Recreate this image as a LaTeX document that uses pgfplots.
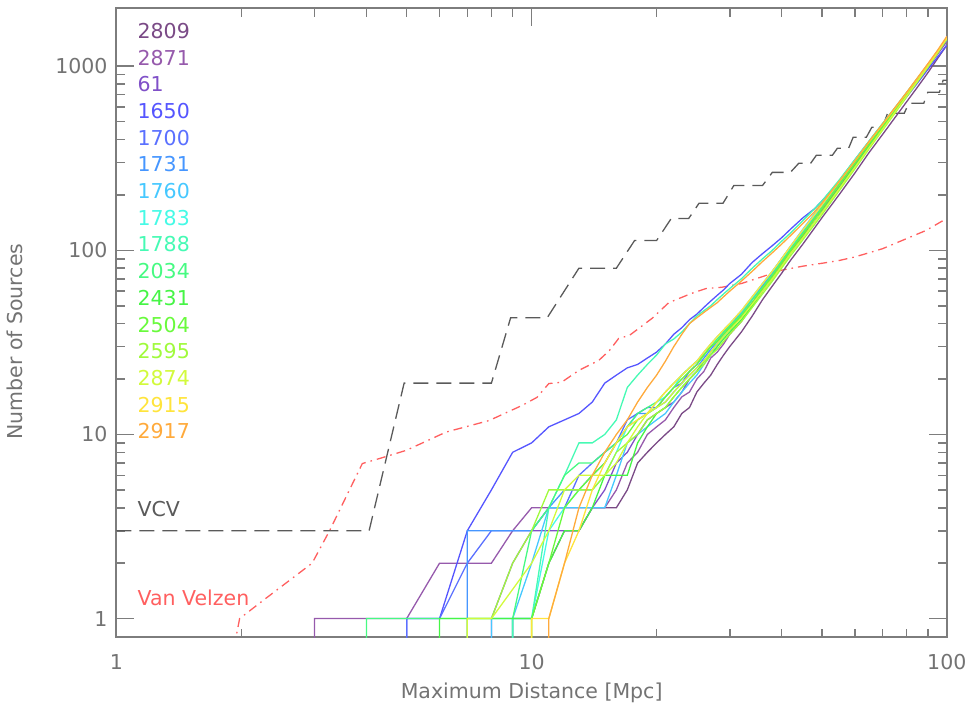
\documentclass[border=0pt]{standalone}
\usepackage{fontspec}
\setmainfont{DejaVu Sans}
\usepackage{pgfplots}
\pgfplotsset{compat=1.18}

\definecolor{axisgray}{RGB}{125,125,125}
\definecolor{textgray}{RGB}{115,115,115}
\definecolor{vcvgray}{RGB}{90,90,90}
\definecolor{vvred}{RGB}{255,95,95}
\definecolor{c2809}{RGB}{122,74,134}
\definecolor{c2871}{RGB}{150,90,172}
\definecolor{c61}{RGB}{128,80,200}
\definecolor{c1650}{RGB}{85,85,255}
\definecolor{c1700}{RGB}{90,112,255}
\definecolor{c1731}{RGB}{70,150,255}
\definecolor{c1760}{RGB}{70,200,255}
\definecolor{c1783}{RGB}{70,250,230}
\definecolor{c1788}{RGB}{70,250,180}
\definecolor{c2034}{RGB}{70,250,130}
\definecolor{c2431}{RGB}{70,245,70}
\definecolor{c2504}{RGB}{105,250,60}
\definecolor{c2595}{RGB}{160,250,60}
\definecolor{c2874}{RGB}{210,250,60}
\definecolor{c2915}{RGB}{255,228,60}
\definecolor{c2917}{RGB}{255,170,60}

\newcommand{\lbl}{\fontsize{10.3}{12}\selectfont}

\begin{document}
\begin{tikzpicture}
\begin{axis}[
  xmode=log, ymode=log,
  scale only axis, width=415.5bp, height=315bp,
  xmin=1, xmax=100, ymin=0.79, ymax=2070,
  xtick={1,10,100}, xticklabels={1,10,100},
  ytick={1,10,100,1000}, yticklabels={1,10,100,1000},
  axis line style={draw=axisgray, line width=1bp},
  every tick/.style={draw=axisgray, line width=0.8bp},
  major tick length=9bp, minor tick length=4.5bp,
  tick label style={font=\lbl, text=textgray},
  xticklabel style={yshift=-5bp},
  yticklabel style={xshift=-1bp},
  label style={font=\lbl, text=textgray},
  xlabel={Maximum Distance [Mpc]},
  ylabel={Number of Sources},
  xlabel style={at={(axis description cs:0.5,0)}, anchor=center, yshift=-27.5bp},
  ylabel style={at={(axis description cs:0,0.47)}, anchor=center, rotate=0, yshift=51bp},
  every axis plot/.append style={line width=0.65bp},
]
% VCV
\addplot[vcvgray, dash pattern=on 7.5bp off 4bp] coordinates {
  (1,3)(4.06,3)(4.93,19)(8.0,19)(8.9,43)(10.9,43)(13,80)(16,80)(17.7,113)
  (20,113)(21.7,149)(23.9,149)(25.3,180)(28.9,180)(30.7,225)(36,225)
  (38,265)(42,265)(44,297)(47,297)(48.5,328)(53,328)(54.5,358)(58,358)
  (59.5,411)(64,411)(66,466)(70,466)(72,555)(79,555)(81,629)(88,629)
  (90,722)(96,722)(98,839)(100,839)};
% Van Velzen
\addplot[vvred, dash pattern=on 4.5bp off 2.5bp on 0.8bp off 2.5bp] coordinates {
  (1.92,0.7)(1.98,1)(2.25,1.25)(2.96,2.0)(3.26,3.0)(3.91,6.95)(4.3,7.4)
  (4.99,8.2)(6.22,10.3)(7.9,11.9)(9.5,14.4)(10.3,15.9)(11.0,18.9)(11.8,19.2)
  (13.0,22.3)(14.5,25.2)(15.4,28.6)(16.2,33.2)(17.2,34.5)(19.5,42.7)(21.4,52)
  (24.3,58.4)(26.3,62)(28.7,63)(32,66)(36,72)(40,78)(45,82)(50,85)(55,88)
  (60,92)(65,97)(70,102)(78,113)(89,128)(100,149)};

\addplot[c2809] coordinates {
  (9,0.5)(9,1)(10,1)(11,2)(12,3)(13,3)(14,4)(16,4)(17,5)(18,7)(19,8)(20,9)
  (21,10)(22,11)(23,13)(24,14)(25,17)(26,19)(27,21)(28,24)(29,27)(30,30)
  (32,36)(34,44)(36,54)(38,64)(40,75)(42,88)(45,108)(48,132)(50,150)(55,200)
  (60,262)(65,340)(70,425)(75,525)(80,640)(85,770)(90,920)(95,1100)(100,1300)};
\addplot[c2871] coordinates {
  (3,0.5)(3,1)(5,1)(6,2)(8,2)(9,3)(10,4)(15,4)(16,5)(17,7)(18,8)(19,10)
  (20,11)(21,12)(22,14)(23,16)(24,17)(25,20)(26,22)(27,26)(28,28)(29,31)
  (30,35)(32,41)(34,50)(36,60)(38,70)(40,83)(42,98)(45,120)(48,148)(50,166)
  (55,220)(60,290)(65,370)(70,460)(75,565)(80,690)(85,830)(90,985)(95,1160)(100,1360)};
\addplot[c61] coordinates {
  (8,0.5)(8,1)(9,2)(10,3)(13,3)(14,4)(15,5)(16,7)(17,8)(18,10)(19,12)(20,13)
  (21,14)(22,15)(23,17)(24,20)(25,22)(26,25)(27,28)(28,31)(29,34)(30,37)
  (32,44)(34,52)(36,62)(38,73)(40,86)(42,100)(45,125)(48,152)(50,172)(55,228)
  (60,298)(65,378)(70,470)(75,578)(80,700)(85,840)(90,1000)(95,1180)(100,1390)};
\addplot[c1650] coordinates {
  (5,0.5)(5,1)(6,1)(7,3)(8,5)(9,8)(10,9)(11,11)(12,12)(13,13)(14,15)(15,19)
  (16,21)(17,23)(18,24)(19,26)(20,28)(21,31)(22,35)(23,38)(24,42)(25,45)
  (26,49)(27,53)(28,57)(29,61)(30,66)(32,74)(34,86)(36,96)(38,106)(40,117)
  (42,130)(45,150)(48,168)(50,185)(55,235)(60,300)(65,375)(70,465)(75,565)
  (80,680)(85,810)(90,960)(95,1120)(100,1300)};
\addplot[c1700] coordinates {
  (5,0.5)(5,1)(6,1)(7,2)(8,3)(10,3)(11,4)(12,4)(13,6)(14,7)(15,8)(16,9)
  (17,12)(18,13)(19,14)(20,14)(21,16)(22,18)(23,19)(24,22)(25,24)(26,27)
  (27,30)(28,32)(29,36)(30,39)(32,46)(34,55)(36,65)(38,76)(40,90)(42,104)
  (45,128)(48,155)(50,175)(55,232)(60,300)(65,382)(70,475)(75,580)(80,705)
  (85,845)(90,1005)(95,1185)(100,1390)};
\addplot[c1731] coordinates {
  (7,0.5)(7,3)(10,3)(11,4)(12,5)(13,5)(14,6)(15,7)(16,9)(17,11)(18,13)(19,13)
  (20,14)(21,15)(22,17)(23,19)(24,21)(25,23)(26,26)(27,29)(28,32)(29,35)
  (30,38)(32,45)(34,54)(36,64)(38,75)(40,88)(42,102)(45,126)(48,152)(50,172)
  (55,230)(60,300)(65,380)(70,472)(75,580)(80,700)(85,840)(90,1000)(95,1190)(100,1400)};
\addplot[c1760] coordinates {
  (8,0.5)(8,1)(9,1)(10,2)(11,4)(15,4)(16,6)(17,9)(18,10)(19,11)(20,12)(21,13)
  (22,15)(23,17)(24,19)(25,21)(26,24)(27,27)(28,30)(29,34)(30,38)(32,46)
  (34,55)(36,66)(38,77)(40,90)(42,105)(45,130)(48,158)(50,178)(55,238)
  (60,310)(65,392)(70,485)(75,590)(80,715)(85,855)(90,1015)(95,1200)(100,1410)};
\addplot[c1783] coordinates {
  (9,0.5)(9,1)(10,1)(11,3)(12,4)(13,5)(14,5)(15,6)(16,8)(17,11)(18,12)(19,13)
  (20,15)(21,16)(22,18)(23,21)(24,23)(25,25)(26,28)(27,31)(28,34)(29,37)
  (30,40)(32,47)(34,56)(36,66)(38,77)(40,90)(42,104)(45,128)(48,155)(50,176)
  (55,236)(60,306)(65,390)(70,485)(75,592)(80,715)(85,855)(90,1015)(95,1195)(100,1400)};
\addplot[c1788] coordinates {
  (9,0.5)(9,1)(10,1)(11,4)(12,6)(13,9)(14,9)(15,10)(16,12)(17,18)(18,21)(19,24)
  (20,27)(21,31)(22,33)(23,36)(24,40)(25,44)(26,47)(27,50)(28,54)(29,58)
  (30,62)(32,70)(34,80)(36,90)(38,100)(40,112)(42,124)(45,145)(48,168)(50,185)
  (55,240)(60,310)(65,392)(70,488)(75,595)(80,720)(85,862)(90,1020)(95,1200)(100,1410)};
\addplot[c2034] coordinates {
  (4,0.5)(4,1)(9,1)(10,3)(11,4)(12,6)(13,7)(14,7)(15,8)(16,9)(17,11)(18,13)
  (19,14)(20,15)(21,17)(22,19)(23,21)(24,23)(25,25)(26,27)(27,30)(28,33)
  (29,36)(30,39)(32,45)(34,54)(36,63)(38,74)(40,87)(42,101)(45,124)(48,150)
  (50,170)(55,228)(60,298)(65,380)(70,472)(75,580)(80,705)(85,848)(90,1010)
  (95,1195)(100,1410)};
\addplot[c2431] coordinates {
  (6,0.5)(6,1)(10,1)(11,2)(12,3)(13,3)(14,4)(15,6)(16,6)(17,6)(18,9)(19,11)
  (20,13)(21,14)(22,16)(23,18)(24,20)(25,22)(26,25)(27,27)(28,30)(29,33)
  (30,36)(32,42)(34,50)(36,60)(38,70)(40,82)(42,96)(45,118)(48,143)(50,162)
  (55,218)(60,286)(65,367)(70,460)(75,568)(80,692)(85,835)(90,1000)(95,1190)(100,1420)};
\addplot[c2504] coordinates {
  (10,0.5)(10,1)(11,2)(12,4)(13,5)(14,6)(15,7)(16,9)(17,10)(18,12)(19,13)
  (20,14)(21,16)(22,18)(23,20)(24,22)(25,24)(26,27)(27,30)(28,32)(29,35)
  (30,38)(32,44)(34,52)(36,62)(38,72)(40,85)(42,99)(45,122)(48,148)(50,168)
  (55,226)(60,296)(65,378)(70,470)(75,578)(80,702)(85,845)(90,1008)(95,1195)(100,1420)};
\addplot[c2595] coordinates {
  (7,0.5)(7,1)(8,1)(9,2)(10,3)(11,5)(14,5)(15,6)(16,8)(17,9)(18,10)(19,12)
  (20,13)(21,14)(22,16)(23,18)(24,20)(25,22)(26,24)(27,27)(28,29)(29,32)
  (30,35)(32,41)(34,49)(36,58)(38,68)(40,80)(42,93)(45,114)(48,138)(50,156)
  (55,210)(60,276)(65,356)(70,448)(75,555)(80,680)(85,822)(90,985)(95,1175)(100,1400)};
\addplot[c2874] coordinates {
  (7,0.5)(7,1)(8,1)(10,2)(11,3)(12,5)(13,6)(14,6)(15,6)(16,7)(17,9)(18,11)
  (19,13)(20,14)(21,15)(22,17)(23,19)(24,21)(25,23)(26,25)(27,28)(28,31)
  (29,34)(30,37)(32,43)(34,51)(36,60)(38,70)(40,82)(42,96)(45,117)(48,142)
  (50,160)(55,215)(60,282)(65,362)(70,455)(75,562)(80,688)(85,830)(90,995)
  (95,1185)(100,1430)};
\addplot[c2915] coordinates {
  (10,0.5)(10,1)(11,1)(12,2)(13,3)(14,5)(15,7)(16,9)(17,11)(18,12)(19,13)
  (20,15)(21,17)(22,19)(23,21)(24,23)(25,25)(26,28)(27,31)(28,34)(29,37)
  (30,40)(32,47)(34,56)(36,66)(38,77)(40,90)(42,105)(45,129)(48,156)(50,176)
  (55,235)(60,305)(65,388)(70,482)(75,590)(80,715)(85,858)(90,1020)(95,1205)(100,1420)};
\addplot[c2917] coordinates {
  (11,0.5)(11,1)(12,2)(13,4)(14,6)(15,8)(16,10)(17,12)(18,15)(19,18)(20,21)
  (21,25)(22,30)(23,35)(24,40)(25,43)(26,46)(27,49)(28,52)(29,56)(30,60)
  (32,68)(34,77)(36,87)(38,97)(40,108)(42,120)(45,140)(48,162)(50,180)
  (55,236)(60,305)(65,390)(70,485)(75,595)(80,720)(85,865)(90,1030)(95,1220)(100,1450)};

\begin{scope}[every node/.style={anchor=west, inner sep=0pt, font=\lbl}]
\node[text=c2809] at (rel axis cs:0.025,0.9634) {2809};
\node[text=c2871] at (rel axis cs:0.025,0.9211) {2871};
\node[text=c61]   at (rel axis cs:0.025,0.8787) {61};
\node[text=c1650] at (rel axis cs:0.025,0.8363) {1650};
\node[text=c1700] at (rel axis cs:0.025,0.7939) {1700};
\node[text=c1731] at (rel axis cs:0.025,0.7515) {1731};
\node[text=c1760] at (rel axis cs:0.025,0.7091) {1760};
\node[text=c1783] at (rel axis cs:0.025,0.6667) {1783};
\node[text=c1788] at (rel axis cs:0.025,0.6243) {1788};
\node[text=c2034] at (rel axis cs:0.025,0.5819) {2034};
\node[text=c2431] at (rel axis cs:0.025,0.5395) {2431};
\node[text=c2504] at (rel axis cs:0.025,0.4971) {2504};
\node[text=c2595] at (rel axis cs:0.025,0.4547) {2595};
\node[text=c2874] at (rel axis cs:0.025,0.4123) {2874};
\node[text=c2915] at (rel axis cs:0.025,0.3699) {2915};
\node[text=c2917] at (rel axis cs:0.025,0.3275) {2917};
\node[text=vcvgray] at (rel axis cs:0.025,0.2035) {VCV};
\node[text=vvred] at (rel axis cs:0.025,0.0636) {Van Velzen};
\end{scope}
\end{axis}
\path ([yshift=4bp]current axis.north);
\end{tikzpicture}
\end{document}
